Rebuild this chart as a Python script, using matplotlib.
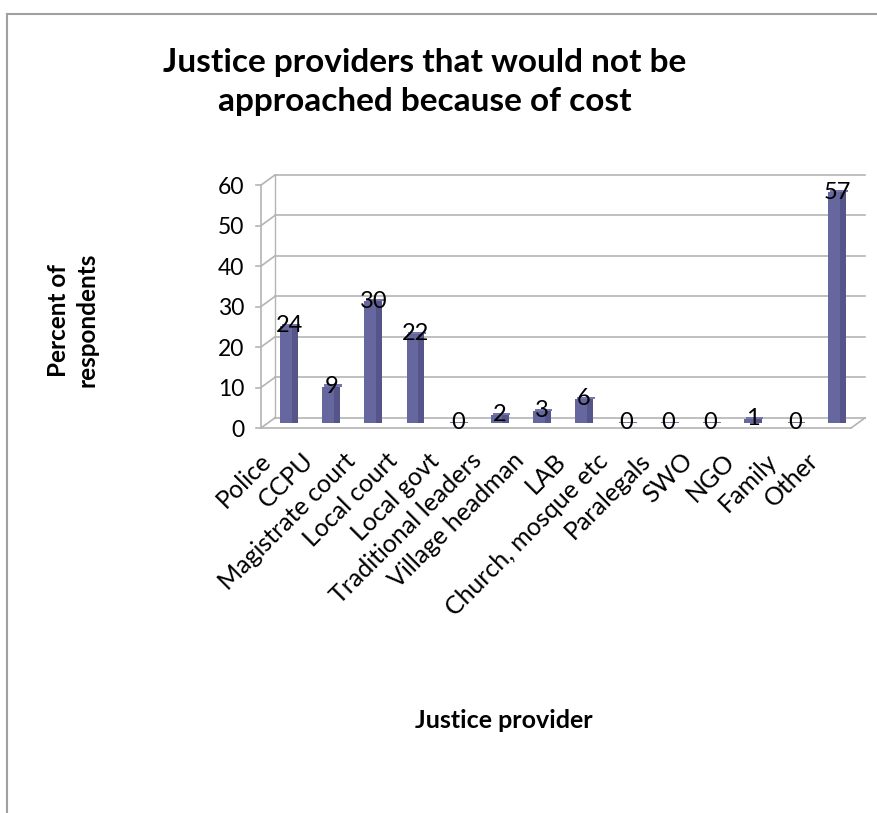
import matplotlib
matplotlib.use("Agg")
import matplotlib.pyplot as plt
from matplotlib.lines import Line2D
from matplotlib.transforms import ScaledTranslation
import numpy as np

categories = ["Police", "CCPU", "Magistrate court", "Local court", "Local govt",
              "Traditional leaders", "Village headman", "LAB", "Church, mosque etc",
              "Paralegals", "SWO", "NGO", "Family", "Other"]
values = [24, 9, 30, 22, 0, 2, 3, 6, 0, 0, 0, 1, 0, 57]
yticks = [0, 10, 20, 30, 40, 50, 60]

plt.rcParams['font.family'] = ['Lato', 'DejaVu Sans']

W, H = 877, 813
fig = plt.figure(figsize=(W / 100, H / 100), dpi=100)

# outer chart border
fig.add_artist(Line2D([7 / W, 1.0], [1 - 14 / H, 1 - 14 / H], transform=fig.transFigure,
                      color='#a0a0a0', lw=1.5))
fig.add_artist(Line2D([7 / W, 7 / W], [0, 1 - 14 / H], transform=fig.transFigure,
                      color='#a0a0a0', lw=1.5))

DX, DY = 0.33, 2.5   # depth offset (data units)
n = len(categories)
x0, x1 = -0.5, n - 0.5

left_px, right_px, bot_px, top_px = 261, 865, 428, 175
ax = fig.add_axes([left_px / W, (H - bot_px) / H, (right_px - left_px) / W, (bot_px - top_px) / H])
ax.set_xlim(x0, x1 + DX)
ax.set_ylim(0, 60 + DY)
for s in ax.spines.values():
    s.set_visible(False)

gc = '#b4b4b4'
for v in yticks:
    ax.plot([x0 + DX, x1 + DX], [v + DY, v + DY], color=gc, lw=1.2, clip_on=False, zorder=1)
    ax.plot([x0, x0 + DX], [v, v + DY], color=gc, lw=1.2, clip_on=False, zorder=1)
    ax.plot([x0 - 0.13, x0], [v, v], color=gc, lw=1.2, clip_on=False, zorder=1)
ax.plot([x0, x0], [0, 60], color=gc, lw=1.2, clip_on=False, zorder=1)
ax.plot([x0 + DX, x0 + DX], [DY, 60 + DY], color=gc, lw=1.0, clip_on=False, zorder=1)
ax.plot([x0, x1], [0, 0], color=gc, lw=1.2, clip_on=False, zorder=1)
ax.plot([x1, x1 + DX], [0, DY], color=gc, lw=1.2, clip_on=False, zorder=1)

xs = np.arange(n) + DX / 2
bw = 0.42
vals = np.array(values, dtype=float)
ax.bar(xs - bw / 2, vals, width=bw * 0.65, bottom=DY / 2, align='edge',
       color='#6767a0', zorder=3)
ax.bar(xs - bw / 2 + bw * 0.65, vals, width=bw * 0.35, bottom=DY / 2, align='edge',
       color='#55558a', zorder=3)
ax.bar(xs - bw / 2 + 0.04, np.where(vals > 0, 0.5, 0.25), width=bw, bottom=vals + DY / 2,
       align='edge', color='#7676ac', zorder=3)

for x, v in zip(xs, values):
    ax.text(x, v + DY / 2, str(v), ha='center', va='center', fontsize=17, color='black',
            zorder=5)

ax.set_yticks(yticks)
ax.set_yticklabels([str(t) for t in yticks], fontsize=16.5)
ax.tick_params(axis='y', length=0, pad=12)
ax.set_xticks([])

off = ax.transData + ScaledTranslation(-0.15, -0.29, fig.dpi_scale_trans)
for i, c in enumerate(categories):
    ax.text(i, 0, c, rotation=45, ha='right', va='center', rotation_mode='anchor',
            fontsize=18, transform=off, clip_on=False)

fig.text(425 / W, 1 - 82 / H, "Justice providers that would not be\napproached because of cost",
         ha='center', va='center', fontsize=24, fontweight='bold', linespacing=1.45)
fig.text(73 / W, 1 - 320 / H, "Percent of\nrespondents", ha='center', va='center',
         rotation=90, fontsize=17.5, fontweight='bold', linespacing=1.3)
fig.text(504 / W, 1 - 720 / H, "Justice provider", ha='center', va='center',
         fontsize=18, fontweight='bold')

fig.savefig("out.png", dpi=100)
